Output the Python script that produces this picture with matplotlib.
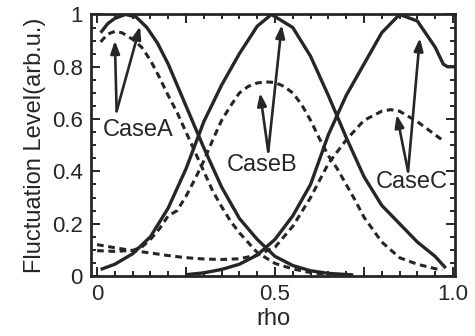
import matplotlib
matplotlib.use('Agg')
import matplotlib.pyplot as plt
from matplotlib.ticker import MultipleLocator, FixedLocator, FixedFormatter

plt.rcParams['font.family'] = ['Liberation Sans', 'DejaVu Sans']

# curves (rho, level)
rho_a = [0.01, 0.03, 0.05, 0.08, 0.11, 0.14, 0.17, 0.20, 0.25, 0.30, 0.35,
         0.40, 0.45, 0.50, 0.55, 0.60, 0.65, 0.72]
solid_a = [0.93, 0.965, 0.985, 1.0, 0.99, 0.95, 0.89, 0.81, 0.65, 0.49, 0.34,
           0.22, 0.14, 0.075, 0.04, 0.02, 0.01, 0.004]

rho_da = [0.01, 0.03, 0.05, 0.07, 0.10, 0.125, 0.15, 0.175, 0.20, 0.225, 0.25,
          0.275, 0.30, 0.325, 0.35, 0.375, 0.40, 0.45, 0.50, 0.55, 0.60, 0.65]
dash_a = [0.895, 0.925, 0.935, 0.93, 0.905, 0.875, 0.825, 0.76, 0.69, 0.625, 0.55,
          0.475, 0.40, 0.325, 0.265, 0.21, 0.165, 0.09, 0.048, 0.027, 0.013, 0.006]

rho_b = [0.01, 0.05, 0.10, 0.15, 0.20, 0.25, 0.30, 0.35, 0.40, 0.45, 0.49,
         0.55, 0.60, 0.65, 0.70, 0.75, 0.80, 0.85, 0.90, 0.95, 0.98]
solid_b = [0.025, 0.045, 0.085, 0.15, 0.26, 0.41, 0.59, 0.73, 0.85, 0.955, 1.0,
           0.95, 0.84, 0.69, 0.53, 0.38, 0.27, 0.2, 0.13, 0.075, 0.03]

rho_db = [0.0, 0.05, 0.10, 0.125, 0.15, 0.175, 0.20, 0.225, 0.25, 0.275, 0.30,
          0.325, 0.35, 0.375, 0.40, 0.425, 0.45, 0.475, 0.50, 0.525, 0.55, 0.575,
          0.60, 0.625, 0.65, 0.675, 0.70, 0.725, 0.75, 0.80, 0.85, 0.90, 0.95, 0.97]
dash_b = [0.097, 0.094, 0.098, 0.11, 0.14, 0.18, 0.23, 0.25, 0.305, 0.37, 0.44,
          0.52, 0.595, 0.65, 0.70, 0.725, 0.738, 0.742, 0.74, 0.725, 0.70, 0.655,
          0.595, 0.525, 0.46, 0.41, 0.35, 0.29, 0.225, 0.13, 0.07, 0.045, 0.028, 0.023]

rho_c = [0.25, 0.30, 0.35, 0.40, 0.45, 0.50, 0.55, 0.60, 0.65, 0.70, 0.75,
         0.80, 0.85, 0.90, 0.95, 0.973, 0.985, 1.01]
solid_c = [0.005, 0.012, 0.025, 0.045, 0.08, 0.14, 0.23, 0.35, 0.54, 0.69, 0.81,
           0.93, 1.0, 0.975, 0.875, 0.81, 0.80, 0.80]

rho_dc = [0.0, 0.05, 0.10, 0.15, 0.20, 0.25, 0.30, 0.35, 0.40, 0.45, 0.50,
          0.55, 0.60, 0.65, 0.70, 0.75, 0.80, 0.825, 0.85, 0.90, 0.95, 0.97]
dash_c = [0.12, 0.108, 0.097, 0.088, 0.078, 0.07, 0.065, 0.063, 0.066, 0.08, 0.11,
          0.19, 0.30, 0.43, 0.52, 0.595, 0.63, 0.636, 0.63, 0.59, 0.54, 0.52]

ink = '#262626'

fig = plt.figure(figsize=(4.75, 3.36), dpi=100)
ax = fig.add_axes([0.1916, 0.1786, 0.7664, 0.7784])

for x, y in [(rho_a, solid_a), (rho_b, solid_b), (rho_c, solid_c)]:
    ax.plot(x, y, '-', color=ink, lw=2.4, solid_capstyle='butt')
for x, y in [(rho_da, dash_a), (rho_db, dash_b), (rho_dc, dash_c)]:
    ax.plot(x, y, '--', color=ink, lw=2.2, dashes=(2.2, 1.5))

ax.set_xlim(-0.017, 1.006)
ax.set_ylim(0, 1)

# annotations
arrow = dict(arrowstyle='-|>,head_length=0.75,head_width=0.27', color=ink,
             lw=1.9, shrinkA=0, shrinkB=0)
cases = [('CaseA', (0.115, 0.56), (0.055, 0.63), (0.05, 0.90), (0.121, 0.955)),
         ('CaseB', (0.465, 0.425), (0.481, 0.476), (0.458, 0.70), (0.519, 0.96)),
         ('CaseC', (0.883, 0.361), (0.874, 0.40), (0.842, 0.617), (0.907, 0.91))]
for name, txt, tail, head1, head2 in cases:
    ax.text(txt[0], txt[1], name, fontsize=17, color=ink, ha='center', va='center')
    ax.annotate('', xy=head1, xytext=tail, arrowprops=arrow)
    ax.annotate('', xy=head2, xytext=tail, arrowprops=arrow)

ax.xaxis.set_major_locator(FixedLocator([0, 0.25, 0.5, 0.75, 1.0]))
ax.xaxis.set_major_formatter(FixedFormatter(['0', '', '0.5', '', '1.0']))
ax.xaxis.set_minor_locator(MultipleLocator(0.05))
ax.yaxis.set_major_locator(FixedLocator([0, 0.2, 0.4, 0.6, 0.8, 1.0]))
ax.yaxis.set_major_formatter(FixedFormatter(['0', '0.2', '0.4', '0.6', '0.8', '1']))
ax.yaxis.set_minor_locator(MultipleLocator(0.05))
ax.tick_params(which='both', direction='in', top=True, right=True,
               width=1.4, color=ink, labelsize=16, labelcolor=ink)
ax.tick_params(which='major', length=6.5, pad=6)
ax.tick_params(which='minor', length=3.6)
for s in ax.spines.values():
    s.set_linewidth(2.0)
    s.set_color(ink)

ax.set_xlabel('rho', fontsize=17, color=ink, labelpad=2)
ax.set_ylabel('Fluctuation Level(arb.u.)', fontsize=17, color=ink, labelpad=4)

fig.savefig('out.png', dpi=100)
